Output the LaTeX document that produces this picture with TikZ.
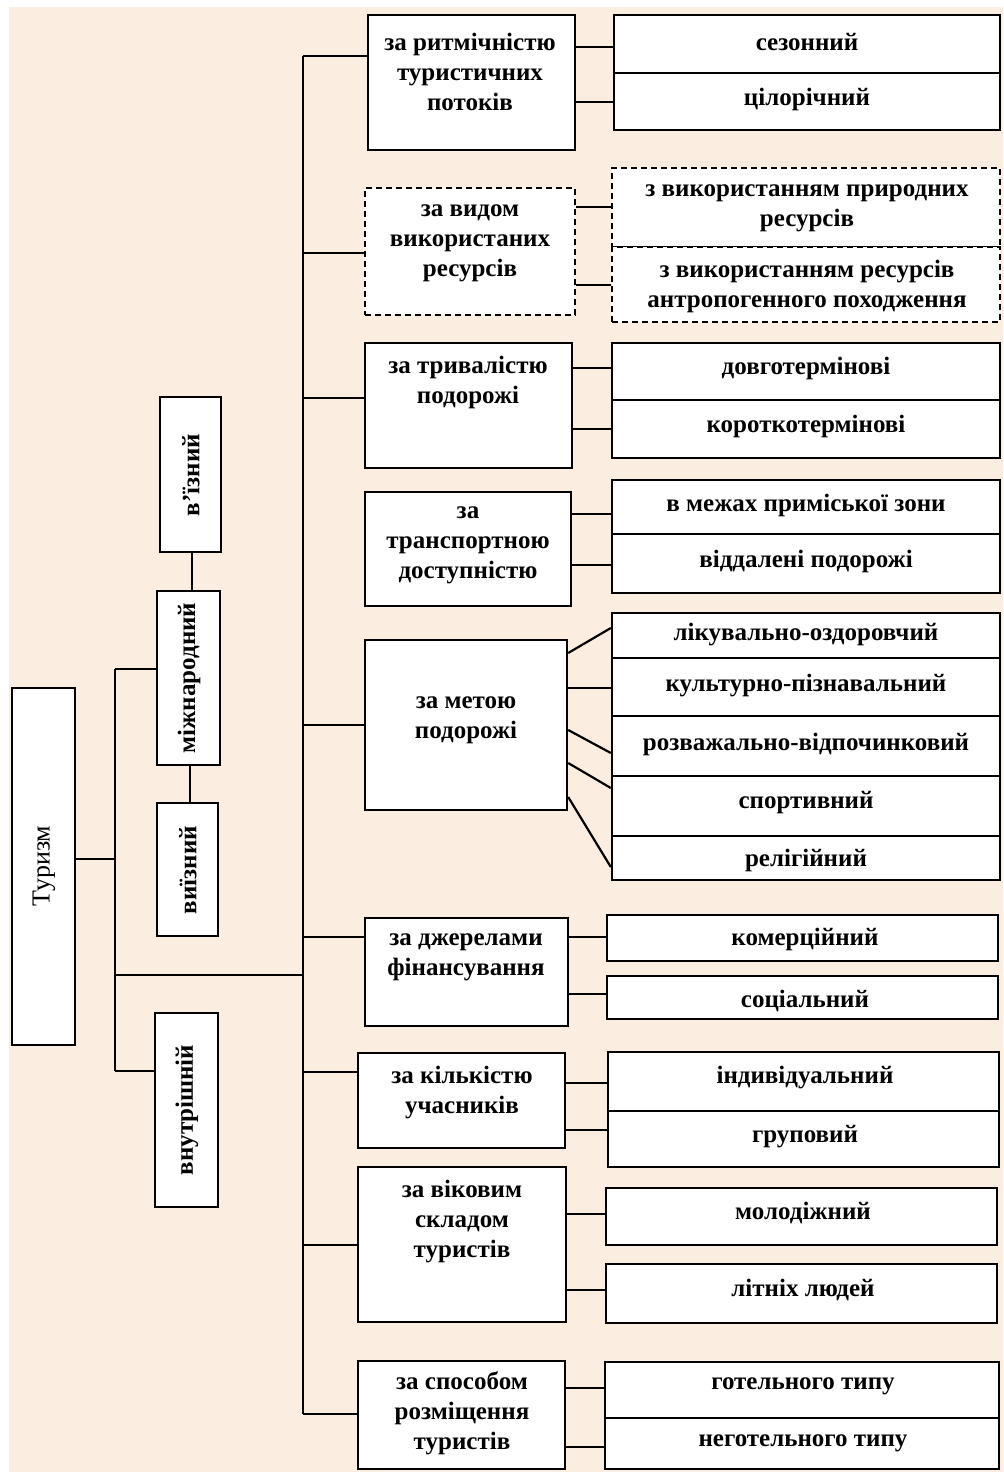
\documentclass[tikz,border=0pt]{standalone}
\usepackage{fontspec}
\setmainfont{Liberation Serif}
\usetikzlibrary{fit}
\definecolor{bg}{RGB}{251,238,225}
\begin{document}
\begin{tikzpicture}[x=0.5pt,y=-0.5pt,
  box/.style={draw, fill=white, line width=1.2pt, inner sep=0pt},
  dbox/.style={box, dash pattern=on 3pt off 2pt},
  lbl/.style={align=center, font=\fontsize{12.5}{15}\selectfont\bfseries, inner sep=0pt},
  con/.style={line width=1.1pt},
  dcon/.style={line width=1.1pt}]
% background
\path[fill=white] (0,0) rectangle (1003,1472);
\path[fill=bg] (9,7) rectangle (1003,1472);
\useasboundingbox (0,0) rectangle (1003,1472);

% ---------- left group ----------
\node[box, fit={(12,688) (75,1045)}] (tur) {};
\node[lbl, font=\fontsize{13}{15}\selectfont, rotate=90] (turt) at (44,866) {Туризм};
\node[box, fit={(160,397) (221,552)}] (vin) {};
\node[lbl, rotate=90] (vint) at (191,475) {в'їзний};
\node[box, fit={(157,591) (220,765)}] (mizh) {};
\node[lbl, rotate=90] (mizht) at (189,678) {міжнародний};
\node[box, fit={(157,803) (218,936)}] (vyiz) {};
\node[lbl, rotate=90] (vyizt) at (188,870) {виїзний};
\node[box, fit={(155,1013) (218,1207)}] (vnut) {};
\node[lbl, rotate=90] (vnutt) at (187,1110) {внутрішній};

\coordinate (ja) at (115,669);
\coordinate (jb) at (115,859);
\coordinate (jc) at (115,975);
\coordinate (jd) at (115,1071);

% ---------- trunk ----------
\coordinate (tr1) at (303,56);
\coordinate (tr2) at (303,253);
\coordinate (tr3) at (303,398);
\coordinate (tr5) at (303,725);
\coordinate (tr6) at (303,937);
\coordinate (trj) at (303,975);
\coordinate (tr7) at (303,1072);
\coordinate (tr8) at (303,1245);
\coordinate (tr9) at (303,1414);

% ---------- group 1 ----------
\node[box, fit={(368,15) (575,150)}] (c1) {};
\node[lbl] (c1t) at (470,72) {за ритмічністю\\туристичних\\потоків};
\node[box, fit={(614,15) (1000,73)}] (s11) {};
\node[lbl] (s11t) at (807,42) {сезонний};
\node[box, fit={(614,73) (1000,130)}] (s12) {};
\node[lbl] (s12t) at (807,99) {цілорічний};

% ---------- group 2 (dashed) ----------
\node[dbox, fit={(365,188) (575,315)}] (c2) {};
\node[lbl] (c2t) at (470,243) {за видом\\використаних\\ресурсів};
\node[dbox, fit={(612,168) (1000,247)}] (s21) {};
\node[lbl] (s21t) at (807,208) {з використанням природних\\ресурсів};
\node[dbox, fit={(612,247) (1000,322)}] (s22) {};
\node[lbl] (s22t) at (807,286) {з використанням ресурсів\\антропогенного походження};

% ---------- group 3 ----------
\node[box, fit={(365,343) (572,468)}] (c3) {};
\node[lbl] (c3t) at (468,382) {за тривалістю\\подорожі};
\node[box, fit={(612,343) (1000,400)}] (s31) {};
\node[lbl] (s31t) at (806,368) {довготермінові};
\node[box, fit={(612,400) (1000,458)}] (s32) {};
\node[lbl] (s32t) at (806,426) {короткотермінові};

% ---------- group 4 ----------
\node[box, fit={(365,492) (571,606)}] (c4) {};
\node[lbl] (c4t) at (468,545) {за\\транспортною\\доступністю};
\node[box, fit={(612,480) (1000,534)}] (s41) {};
\node[lbl] (s41t) at (806,505) {в межах приміської зони};
\node[box, fit={(612,534) (1000,593)}] (s42) {};
\node[lbl] (s42t) at (806,561) {віддалені подорожі};

% ---------- group 5 ----------
\node[box, fit={(365,640) (567,810)}] (c5) {};
\node[lbl] (c5t) at (466,720) {за метою\\подорожі};
\node[box, fit={(612,613) (1000,658)}] (s51) {};
\node[lbl] (s51t) at (806,635) {лікувально-оздоровчий};
\node[box, fit={(612,658) (1000,716)}] (s52) {};
\node[lbl] (s52t) at (806,686) {культурно-пізнавальний};
\node[box, fit={(612,716) (1000,776)}] (s53) {};
\node[lbl] (s53t) at (806,744) {розважально-відпочинковий};
\node[box, fit={(612,776) (1000,836)}] (s54) {};
\node[lbl] (s54t) at (806,803) {спортивний};
\node[box, fit={(612,836) (1000,880)}] (s55) {};
\node[lbl] (s55t) at (806,860) {релігійний};

% ---------- group 6 ----------
\node[box, fit={(365,918) (568,1026)}] (c6) {};
\node[lbl] (c6t) at (466,957) {за джерелами\\фінансування};
\node[box, fit={(607,915) (998,961)}] (s61) {};
\node[lbl] (s61t) at (805,939) {комерційний};
\node[box, fit={(607,976) (998,1019)}] (s62) {};
\node[lbl] (s62t) at (805,1001) {соціальний};

% ---------- group 7 ----------
\node[box, fit={(358,1053) (565,1148)}] (c7) {};
\node[lbl] (c7t) at (462,1093) {за кількістю\\учасників};
\node[box, fit={(608,1052) (999,1111)}] (s71) {};
\node[lbl] (s71t) at (805,1078) {індивідуальний};
\node[box, fit={(608,1111) (999,1167)}] (s72) {};
\node[lbl] (s72t) at (805,1137) {груповий};

% ---------- group 8 ----------
\node[box, fit={(358,1167) (566,1322)}] (c8) {};
\node[lbl] (c8t) at (462,1222) {за віковим\\складом\\туристів};
\node[box, fit={(606,1188) (997,1245)}] (s81) {};
\node[lbl] (s81t) at (803,1213) {молодіжний};
\node[box, fit={(606,1264) (997,1323)}] (s82) {};
\node[lbl] (s82t) at (803,1290) {літніх людей};

% ---------- group 9 ----------
\node[box, fit={(358,1361) (565,1469)}] (c9) {};
\node[lbl] (c9t) at (462,1413) {за способом\\розміщення\\туристів};
\node[box, fit={(605,1362) (999,1418)}] (s91) {};
\node[lbl] (s91t) at (803,1386) {готельного типу};
\node[box, fit={(605,1418) (999,1469)}] (s92) {};
\node[lbl] (s92t) at (803,1443) {неготельного типу};

% ---------- connectors: left ----------
\draw[con] (tur.east |- jb) -- (jb);
\draw[con] (ja) -- (jd);
\draw[con] (ja) -- (mizh.west |- ja);
\draw[con] (jd) -- (vnut.west |- jd);
\draw[con] (jc) -- (trj);
\draw[con] (vin.south -| 192,0) -- (mizh.north -| 192,0);
\draw[con] (mizh.south -| 190,0) -- (vyiz.north -| 190,0);

% ---------- trunk and branches ----------
\draw[con] (tr1) -- (tr9);
\draw[con] (tr1) -- (c1.west |- tr1);
\draw[con] (tr2) -- (c2.west |- tr2);
\draw[con] (tr3) -- (c3.west |- tr3);
\draw[con] (tr5) -- (c5.west |- tr5);
\draw[con] (tr6) -- (c6.west |- tr6);
\draw[con] (tr7) -- (c7.west |- tr7);
\draw[con] (tr8) -- (c8.west |- tr8);
\draw[con] (tr9) -- (c9.west |- tr9);

% ---------- connectors: boxes to sub-boxes ----------
\draw[con] (c1.east |- 0,47) -- (s11.west |- 0,47);
\draw[con] (c1.east |- 0,102) -- (s12.west |- 0,102);
\draw[dcon] (c2.east |- 0,207) -- (s21.west |- 0,207);
\draw[dcon] (c2.east |- 0,285) -- (s22.west |- 0,285);
\draw[con] (c3.east |- 0,368) -- (s31.west |- 0,368);
\draw[con] (c3.east |- 0,429) -- (s32.west |- 0,429);
\draw[con] (c4.east |- 0,514) -- (s41.west |- 0,514);
\draw[con] (c4.east |- 0,565) -- (s42.west |- 0,565);
\draw[con] (c5.east |- 0,653) -- (s51.west |- 0,628);
\draw[con] (c5.east |- 0,688) -- (s52.west |- 0,688);
\draw[con] (c5.east |- 0,730) -- (s53.west |- 0,753);
\draw[con] (c5.east |- 0,763) -- (s54.west |- 0,788);
\draw[con] (c5.east |- 0,797) -- (s55.west |- 0,867);
\draw[con] (c6.east |- 0,937) -- (s61.west |- 0,937);
\draw[con] (c6.east |- 0,994) -- (s62.west |- 0,994);
\draw[con] (c7.east |- 0,1083) -- (s71.west |- 0,1083);
\draw[con] (c7.east |- 0,1130) -- (s72.west |- 0,1130);
\draw[con] (c8.east |- 0,1214) -- (s81.west |- 0,1214);
\draw[con] (c8.east |- 0,1290) -- (s82.west |- 0,1290);
\draw[con] (c9.east |- 0,1388) -- (s91.west |- 0,1388);
\draw[con] (c9.east |- 0,1447) -- (s92.west |- 0,1447);
\end{tikzpicture}
\end{document}
